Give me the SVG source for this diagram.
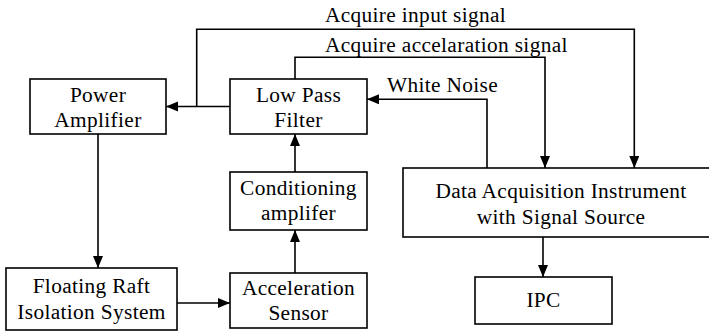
<svg xmlns="http://www.w3.org/2000/svg" width="709" height="332" viewBox="0 0 709 332">
  <style>
    .box { fill: #fff; stroke: #000; stroke-width: 1.6; }
    .wire { fill: none; stroke: #000; stroke-width: 1.6; }
    .arr { marker-end: url(#arrow); }
    .c { text-anchor: middle; }
    text { font-family: 'Liberation Serif', 'Times New Roman', serif; font-size: 21.33px; letter-spacing: 0.35px; fill: #000; }
  </style>
  <defs>
    <marker id="arrow" markerUnits="userSpaceOnUse" markerWidth="13" markerHeight="11" refX="12" refY="5" orient="auto">
      <path d="M0,0 L12,5 L0,10 Z" fill="#000"/>
    </marker>
  </defs>
  <rect width="709" height="332" fill="#fff"/>

  <!-- connectors and their labels -->
  <g id="connectors">
    <path class="wire arr" d="M230,106.5 H166"/>
    <path class="wire arr" d="M196.7,106.5 V29.3 H634.3 V168"/>
    <path class="wire arr" d="M295,79 V57.3 H545 V168"/>
    <path class="wire arr" d="M487,168 V99.3 H367"/>
    <path class="wire arr" d="M543,237 V277"/>
    <path class="wire arr" d="M98,134 V268"/>
    <path class="wire arr" d="M177,303 H230"/>
    <path class="wire arr" d="M295,273 V230"/>
    <path class="wire arr" d="M295,172 V134"/>
    <text x="325" y="21.5">Acquire input signal</text>
    <text x="325" y="51.5">Acquire accelaration signal</text>
    <text x="387" y="91.7">White Noise</text>
  </g>

  <g id="power-amplifier">
    <rect class="box" x="30" y="79" width="136" height="55"/>
    <text class="c" x="98" y="101.5">Power</text>
    <text class="c" x="98" y="127">Amplifier</text>
  </g>

  <g id="low-pass-filter">
    <rect class="box" x="230" y="79" width="137" height="55"/>
    <text class="c" x="298.5" y="101.5">Low Pass</text>
    <text class="c" x="298.5" y="127">Filter</text>
  </g>

  <g id="conditioning-amplifier">
    <rect class="box" x="230" y="172" width="137" height="58"/>
    <text class="c" x="298.5" y="195">Conditioning</text>
    <text class="c" x="298.5" y="220">amplifer</text>
  </g>

  <g id="acceleration-sensor">
    <rect class="box" x="230" y="273" width="137" height="55"/>
    <text class="c" x="298.5" y="295">Acceleration</text>
    <text class="c" x="298.5" y="320">Sensor</text>
  </g>

  <g id="floating-raft">
    <rect class="box" x="6" y="268" width="171" height="62"/>
    <text class="c" x="91.5" y="293">Floating Raft</text>
    <text class="c" x="91.5" y="318.5">Isolation System</text>
  </g>

  <g id="data-acquisition">
    <rect class="box" x="403" y="168" width="316" height="69"/>
    <text class="c" x="561" y="198">Data Acquisition Instrument</text>
    <text class="c" x="561" y="223.5">with Signal Source</text>
  </g>

  <g id="ipc">
    <rect class="box" x="475" y="277" width="137" height="47"/>
    <text class="c" x="543.5" y="306.7">IPC</text>
  </g>
</svg>
